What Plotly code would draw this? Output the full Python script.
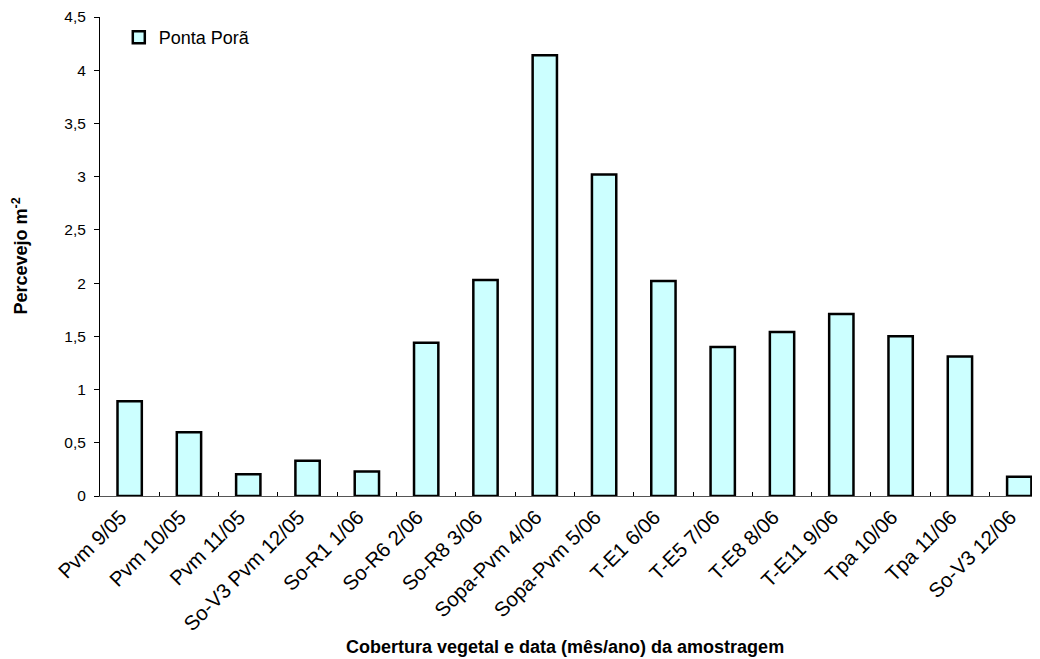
import plotly.graph_objects as go

categories = ["Pvm 9/05", "Pvm 10/05", "Pvm 11/05", "So-V3 Pvm 12/05", "So-R1 1/06",
              "So-R6 2/06", "So-R8 3/06", "Sopa-Pvm 4/06", "Sopa-Pvm 5/06", "T-E1 6/06",
              "T-E5 7/06", "T-E8 8/06", "T-E11 9/06", "Tpa 10/06", "Tpa 11/06", "So-V3 12/06"]
values = [0.89, 0.60, 0.205, 0.33, 0.23, 1.44, 2.03, 4.14, 3.02, 2.02,
          1.40, 1.54, 1.71, 1.50, 1.31, 0.18]
series_name = "Ponta Porã"
y_tickvals = [0, 0.5, 1, 1.5, 2, 2.5, 3, 3.5, 4, 4.5]
y_ticktext = ["0", "0,5", "1", "1,5", "2", "2,5", "3", "3,5", "4", "4,5"]

FONT = "Arial, Liberation Sans, sans-serif"

fig = go.Figure()
fig.add_trace(go.Bar(
    x=categories, y=values, name=series_name,
    width=0.41,
    marker=dict(color="#CCFFFF", line=dict(color="black", width=2.5)),
    showlegend=True,
))

fig.update_layout(
    width=1032, height=651, autosize=False,
    margin=dict(l=92, r=0, t=4, b=163),
    paper_bgcolor="white", plot_bgcolor="white",
    font=dict(family=FONT, color="black"),
    showlegend=True,
    legend=dict(x=0.02, y=0.957, xanchor="left", yanchor="middle",
                font=dict(size=18, family=FONT), bgcolor="rgba(0,0,0,0)",
                itemwidth=30),
    xaxis=dict(
        type="category", range=[-0.5, 15.35],
        showline=True, linecolor="#555555", linewidth=1,
        ticks="inside", ticklen=4, tickcolor="black", tickson="boundaries",
        tickangle=-45, tickfont=dict(size=20.5, family=FONT),
        ticklabelshift=-9,
        showgrid=False, zeroline=False,
    ),
    yaxis=dict(
        range=[0, 4.5], tickvals=y_tickvals, ticktext=y_ticktext,
        showline=True, linecolor="black", linewidth=1,
        ticks="outside", ticklen=5, tickcolor="black",
        tickfont=dict(size=15.5, family=FONT), ticklabelstandoff=5,
        ticklabeloverflow="allow",
        showgrid=False, zeroline=False,
    ),
    annotations=[
        dict(text="<b>Cobertura vegetal e data (mês/ano) da amostragem</b>",
             xref="paper", yref="paper", x=0.495, y=-0.315,
             xanchor="center", yanchor="middle", showarrow=False,
             font=dict(size=18, family=FONT)),
        dict(text="<b>Percevejo m<sup>-2</sup></b>",
             xref="paper", yref="paper", x=-0.085, y=0.50,
             xanchor="center", yanchor="middle", showarrow=False, textangle=-90,
             font=dict(size=18, family=FONT)),
    ],
)

fig.write_html("out.html")
